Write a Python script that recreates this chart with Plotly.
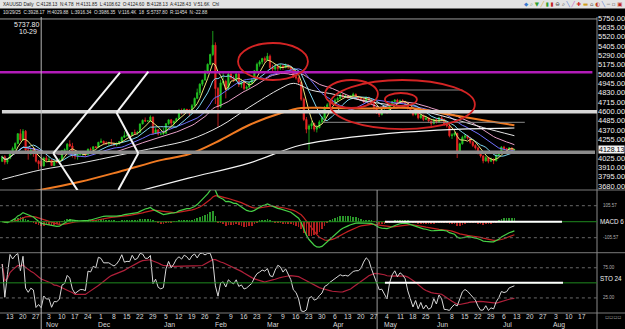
import plotly.graph_objects as go
from plotly.subplots import make_subplots
import pandas as pd

# ---------------- data ----------------
first_idx = 2  # trading-day index (Mon 6 Oct = 0) of the first candle

opens = [3985, 4040, 3975,
         4018, 4110, 4142, 4205, 4325,
         4250, 4356, 4125, 4095, 4125,
         4112, 3985, 3986.35, 3928, 4025,
         4000, 4002, 3932, 3980, 3977,
         4000, 4115, 4128, 4195, 4172,
         4082, 4046, 4066, 4078, 4078,
         4065, 4135, 4130, 4164, 4155,
         4218, 4232, 4207, 4206, 4208,
         4198, 4190, 4208, 4228, 4280,
         4300, 4305, 4303, 4340, 4332,
         4340, 4445, 4490, 4480, 4482,
         4530, 4332, 4372, 4320, 4322,
         4330, 4448, 4495, 4455, 4478,
         4510, 4600, 4590, 4625, 4615,
         4595, 4670, 4760, 4830, 4935,
         4985, 5080, 5180, 5300, 5415,
         4880, 4660, 4950, 4970, 4870,
         5060, 5010, 4980, 5060, 4930,
         4960, 4880, 4900, 4950, 4990,
         5100, 5180, 5210, 5250, 5230,
         5280, 5140, 5120, 5150, 5130,
         5160, 5140, 5170, 5150, 5110,
         5030, 5010, 4960, 4750, 4500,
         4380, 4420, 4450, 4380, 4400,
         4470, 4520, 4650, 4680, 4720,
         4700, 4740, 4760, 4800, 4780,
         4790, 4770, 4790, 4810, 4780,
         4760, 4750, 4720, 4770, 4740,
         4700, 4640, 4580, 4560, 4600,
         4610, 4600, 4680, 4720, 4740,
         4710, 4730, 4720, 4700, 4640,
         4600, 4560, 4590, 4520, 4550,
         4500, 4520, 4480, 4450, 4500,
         4470, 4520, 4500, 4440, 4420,
         4300, 4310, 4330, 4110, 4200,
         4280, 4300, 4270, 4220, 4180,
         4150, 4090, 4050, 3990, 4030,
         3985, 4010, 3990, 4060, 4100,
         4160, 4140, 4130, 4150, 4124.60]

highs = [4055, 4060, 4025,
         4115, 4165, 4218, 4330, 4380,
         4382, 4370, 4160, 4150, 4160,
         4115, 4000, 4029.88, 4040, 4055,
         4040, 4010, 3995, 4010, 4020,
         4125, 4145, 4210, 4245, 4212,
         4095, 4085, 4110, 4100, 4095,
         4140, 4155, 4170, 4168, 4225,
         4265, 4240, 4232, 4225, 4260,
         4215, 4215, 4235, 4290, 4355,
         4350, 4320, 4345, 4375, 4360,
         4450, 4500, 4525, 4490, 4550,
         4535, 4395, 4380, 4330, 4400,
         4455, 4500, 4505, 4485, 4520,
         4630, 4635, 4640, 4630, 4625,
         4690, 4770, 4880, 4945, 4990,
         5110, 5190, 5310, 5590, 5450,
         4900, 4990, 5090, 4990, 5075,
         5080, 5040, 5085, 5070, 5000,
         4975, 4920, 4970, 5010, 5110,
         5200, 5230, 5260, 5275, 5320,
         5300, 5175, 5180, 5170, 5185,
         5175, 5190, 5180, 5160, 5120,
         5060, 5030, 4970, 4770, 4530,
         4440, 4480, 4460, 4430, 4490,
         4540, 4665, 4700, 4735, 4740,
         4760, 4780, 4830, 4815, 4810,
         4800, 4800, 4830, 4820, 4790,
         4780, 4760, 4785, 4780, 4750,
         4710, 4660, 4600, 4620, 4630,
         4620, 4690, 4730, 4750, 4755,
         4745, 4750, 4730, 4705, 4650,
         4610, 4610, 4600, 4570, 4560,
         4530, 4525, 4490, 4510, 4510,
         4530, 4540, 4510, 4460, 4430,
         4330, 4345, 4335, 4215, 4300,
         4320, 4310, 4280, 4235, 4195,
         4160, 4110, 4060, 4050, 4040,
         4030, 4020, 4070, 4110, 4170,
         4175, 4150, 4160, 4155, 4131.85]

lows = [3975, 3945, 3950,
        4010, 4090, 4110, 4195, 4230,
        4235, 4080, 4005, 4060, 4040,
        3970, 3885, 3916.34, 3920, 3975,
        3975, 3930, 3925, 3960, 3970,
        3995, 4100, 4115, 4160, 4030,
        4010, 4005, 4055, 4040, 4040,
        4060, 4110, 4125, 4145, 4150,
        4210, 4190, 4185, 4175, 4195,
        4170, 4170, 4185, 4210, 4275,
        4285, 4270, 4295, 4310, 4315,
        4338, 4440, 4470, 4475, 4475,
        4310, 4320, 4300, 4312, 4310,
        4325, 4430, 4420, 4410, 4465,
        4505, 4560, 4585, 4580, 4540,
        4590, 4665, 4750, 4800, 4910,
        4980, 5060, 5170, 5280, 4690,
        4410, 4640, 4920, 4760, 4860,
        4990, 4960, 4970, 4900, 4890,
        4860, 4850, 4880, 4930, 4980,
        5090, 5150, 5180, 5200, 5220,
        5120, 5090, 5100, 5090, 5110,
        5110, 5130, 5120, 5090, 5010,
        4990, 4940, 4730, 4480, 4330,
        4124, 4380, 4350, 4340, 4390,
        4450, 4510, 4630, 4660, 4680,
        4690, 4720, 4750, 4760, 4765,
        4750, 4760, 4780, 4770, 4740,
        4730, 4700, 4710, 4725, 4690,
        4620, 4570, 4530, 4550, 4580,
        4570, 4595, 4670, 4705, 4700,
        4700, 4700, 4680, 4620, 4580,
        4540, 4550, 4500, 4510, 4480,
        4490, 4460, 4420, 4440, 4450,
        4460, 4480, 4420, 4400, 4280,
        4260, 4290, 4025, 4090, 4190,
        4260, 4250, 4200, 4160, 4130,
        4070, 4030, 3960, 3980, 3960,
        3975, 3950, 3985, 4050, 4090,
        4120, 4110, 4120, 4105, 4108.62]

closes = [4040, 3975, 4018,
          4110, 4142, 4205, 4325, 4250,
          4356, 4125, 4095, 4125, 4112,
          3985, 3955, 3928.17, 4025, 4000,
          4002, 3932, 3980, 3977, 4000,
          4115, 4128, 4195, 4172, 4082,
          4046, 4066, 4078, 4078, 4065,
          4135, 4130, 4164, 4155, 4218,
          4232, 4207, 4206, 4208, 4198,
          4190, 4208, 4228, 4280, 4300,
          4305, 4303, 4340, 4332, 4340,
          4445, 4490, 4480, 4482, 4530,
          4332, 4372, 4320, 4322, 4330,
          4448, 4495, 4455, 4478, 4510,
          4600, 4590, 4625, 4615, 4595,
          4670, 4760, 4830, 4935, 4985,
          5080, 5180, 5300, 5415, 4880,
          4660, 4950, 4970, 4870, 5060,
          5010, 4980, 5060, 4930, 4960,
          4880, 4900, 4950, 4990, 5100,
          5180, 5210, 5250, 5230, 5280,
          5140, 5120, 5150, 5130, 5160,
          5140, 5170, 5150, 5110, 5030,
          5010, 4960, 4750, 4500, 4380,
          4420, 4450, 4380, 4400, 4470,
          4520, 4650, 4680, 4720, 4700,
          4740, 4760, 4800, 4780, 4790,
          4770, 4790, 4810, 4780, 4760,
          4750, 4720, 4770, 4740, 4700,
          4640, 4580, 4560, 4600, 4610,
          4600, 4680, 4720, 4740, 4710,
          4730, 4720, 4700, 4640, 4600,
          4560, 4590, 4520, 4550, 4500,
          4520, 4480, 4450, 4500, 4470,
          4520, 4500, 4440, 4420, 4300,
          4310, 4330, 4110, 4200, 4280,
          4300, 4270, 4220, 4180, 4150,
          4090, 4050, 3990, 4030, 3985,
          4010, 3990, 4060, 4100, 4160,
          4140, 4130, 4150, 4120, 4128.13]

# long moving averages (trading-day index, value)
ma60_idx = [2, 17, 32, 47, 62, 74, 86, 97, 109, 114, 121, 128, 143, 159, 174, 187, 199]
ma60_val = [3760, 3880, 3960, 4060, 4160, 4250, 4420, 4650, 4880, 4945, 4860, 4820, 4720, 4640, 4520, 4400, 4300]
ma100_idx = [2, 17, 32, 47, 63, 74, 86, 97, 109, 117, 128, 143, 159, 174, 187, 199]
ma100_val = [3560, 3635, 3733, 3857, 3999, 4074, 4247, 4432, 4576, 4640, 4640, 4635, 4640, 4560, 4490, 4430]
ma200_idx = [47, 56, 74, 97, 117, 143, 174, 199]
ma200_val = [3560, 3630, 3780, 3963, 4185, 4305, 4376, 4395]

# horizontal levels drawn on the chart
level_magenta = 5081
level_light = 4596
level_dark = 4095
thin_levels = [(125.4, 203, 4465), (147, 179, 4863)]
crosshair_idx = 17
crosshair_price = 5737.80
last_price = 4128.13

# hand-drawn white lines (idx, price)
trend_lines = [(21.65, 4083, 47.3, 5076), (21.65, 4083, 32.6, 3548),
               (46.0, 4583, 58.2, 5088), (46.0, 4583, 54.35, 4083),
               (54.35, 4083, 46.65, 3631)]
# red ellipses (idx0, price0, idx1, price1)
ellipses = [(92.7, 4986, 119.6, 5442), (128.1, 4382, 183.8, 4986),
            (126.2, 4641, 146.5, 4986), (149.2, 4666, 161.5, 4826)]

price_ticks = [5750, 5635, 5520, 5405, 5290, 5175, 5060, 4945, 4830, 4715,
               4600, 4485, 4370, 4255, 4025, 3910, 3795, 3680]
tick_days = ["13", "20", "27", "3", "10", "17", "24", "1", "8", "15", "22", "29",
             "5", "12", "19", "26", "2", "9", "16", "23", "2", "9", "16", "23", "30",
             "6", "13", "20", "27", "4", "11", "18", "25", "1", "8", "15", "22", "29",
             "6", "13", "20", "27", "3", "10", "17"]
month_names = ["Nov", "Dec", "Jan", "Feb", "Mar", "Apr", "May", "Jun", "Jul", "Aug"]
month_idx = [20, 40, 65, 85, 105, 130, 150, 170, 195, 215]

macd_levels = [105.57, -105.57]
sto_levels = [75, 25]

# ---------------- derived ----------------
x = list(range(first_idx, first_idx + len(closes)))
c = pd.Series(closes, dtype=float)
h = pd.Series(highs, dtype=float)
l = pd.Series(lows, dtype=float)

ma5 = c.rolling(5, min_periods=1).mean()
ma10 = c.rolling(10, min_periods=1).mean()
ma20 = c.rolling(20, min_periods=1).mean()
ma30 = c.rolling(30, min_periods=1).mean()

ema12 = c.ewm(span=12, adjust=False).mean()
ema26 = c.ewm(span=26, adjust=False).mean()
dif = ema12 - ema26
dea = dif.ewm(span=9, adjust=False).mean()
hist = dif - dea

llv = l.rolling(24, min_periods=1).min()
hhv = h.rolling(24, min_periods=1).max()
stk = 100 * (c - llv) / (hhv - llv)
std = stk.rolling(20, min_periods=1).mean()

# ---------------- figure ----------------
fig = make_subplots(rows=3, cols=1, shared_xaxes=True, vertical_spacing=0)

fig.add_trace(go.Candlestick(
    x=x, open=opens, high=highs, low=lows, close=closes,
    increasing=dict(line=dict(color="#22c422", width=0.8), fillcolor="#22c422"),
    decreasing=dict(line=dict(color="#e82424", width=0.8), fillcolor="#e82424"),
    whiskerwidth=0, hoverinfo="skip"), row=1, col=1)

ma_specs = [(ma30, "#e8a0c8"), (ma20, "#7272ff"), (ma10, "#7fd8f2"), (ma5, "#ece27a")]
for s, col in ma_specs:
    fig.add_trace(go.Scatter(x=x, y=s, mode="lines", line=dict(color=col, width=1)), row=1, col=1)
fig.add_trace(go.Scatter(x=ma60_idx, y=ma60_val, mode="lines", line=dict(color="#e6e6e6", width=1, shape="spline")), row=1, col=1)
fig.add_trace(go.Scatter(x=ma100_idx, y=ma100_val, mode="lines", line=dict(color="#f07a22", width=2, shape="spline")), row=1, col=1)
fig.add_trace(go.Scatter(x=ma200_idx, y=ma200_val, mode="lines", line=dict(color="#f4f4f4", width=1.2, shape="spline")), row=1, col=1)

# MACD
fig.add_trace(go.Bar(x=x, y=hist, width=0.22,
                     marker=dict(color=["#2a962a" if v >= 0 else "#b01e1e" for v in hist], line=dict(width=0))),
              row=2, col=1)
fig.add_trace(go.Scatter(x=x, y=dea, mode="lines", line=dict(color="#c42222", width=1.2)), row=2, col=1)
fig.add_trace(go.Scatter(x=x, y=dif, mode="lines", line=dict(color="#46d046", width=1.2)), row=2, col=1)

# Stochastic
fig.add_trace(go.Scatter(x=x, y=std, mode="lines", line=dict(color="#b0203a", width=1.2)), row=3, col=1)
fig.add_trace(go.Scatter(x=x, y=stk, mode="lines", line=dict(color="#d8d8d8", width=1)), row=3, col=1)

shapes = []
# panel separators
for yp in [0.4155, 0.2037, 0.0]:
    shapes.append(dict(type="line", xref="paper", yref="paper", x0=0, x1=1.05, y0=yp, y1=yp,
                       line=dict(color="#7a7a7a", width=1)))
shapes.append(dict(type="line", xref="paper", yref="paper", x0=1.0, x1=1.0, y0=-0.06, y1=1.0,
                   line=dict(color="#8a8a8a", width=1)))
# levels
shapes.append(dict(type="line", xref="x", yref="y", x0=1.1, x1=229, y0=level_magenta, y1=level_magenta,
                   line=dict(color="#b21cb8", width=2.5)))
shapes.append(dict(type="line", xref="x", yref="y", x0=1.9, x1=231, y0=level_light, y1=level_light,
                   line=dict(color="#d6d6d6", width=3.5)))
shapes.append(dict(type="line", xref="x", yref="y", x0=1.1, x1=230, y0=level_dark, y1=level_dark,
                   line=dict(color="#8c8c8c", width=3.5)))
for x0, x1, yv in thin_levels:
    shapes.append(dict(type="line", xref="x", yref="y", x0=x0, x1=x1, y0=yv, y1=yv,
                       line=dict(color="#8a8a8a", width=1)))
# crosshair
shapes.append(dict(type="line", xref="x", yref="y", x0=1.1, x1=230.8, y0=crosshair_price, y1=crosshair_price,
                   line=dict(color="#9a9a9a", width=1)))
shapes.append(dict(type="line", xref="x", yref="paper", x0=crosshair_idx, x1=crosshair_idx, y0=-0.06, y1=1.0,
                   line=dict(color="#b4b4b4", width=1)))
shapes.append(dict(type="line", xref="x", yref="paper", x0=146.2, x1=146.2, y0=-0.06, y1=0.4155,
                   line=dict(color="#9a9a9a", width=1)))
# trend lines
for a, b, cc, d in trend_lines:
    shapes.append(dict(type="line", xref="x", yref="y", x0=a, y0=b, x1=cc, y1=d,
                       line=dict(color="#f4f4f4", width=2)))
# ellipses
for a, b, cc, d in ellipses:
    shapes.append(dict(type="circle", xref="x", yref="y", x0=a, y0=b, x1=cc, y1=d,
                       line=dict(color="#d42424", width=1.8)))
# MACD panel lines
for lv in macd_levels:
    shapes.append(dict(type="line", xref="x", yref="y2", x0=1.1, x1=230.8, y0=lv, y1=lv,
                       line=dict(color="#6a6a6a", width=1, dash="dot")))
shapes.append(dict(type="line", xref="x", yref="y2", x0=1.1, x1=230.8, y0=0, y1=0,
                   line=dict(color="#1f8a1f", width=1)))
shapes.append(dict(type="line", xref="x", yref="y2", x0=149.2, x1=217.3, y0=0, y1=0,
                   line=dict(color="#ffffff", width=2)))
# stochastic lines
for lv in sto_levels:
    shapes.append(dict(type="line", xref="x", yref="y3", x0=1.1, x1=230.8, y0=lv, y1=lv,
                       line=dict(color="#6a6a6a", width=1, dash="dot")))
shapes.append(dict(type="line", xref="x", yref="y3", x0=1.1, x1=230.8, y0=50, y1=50,
                   line=dict(color="#1f8a1f", width=1)))
shapes.append(dict(type="line", xref="x", yref="y3", x0=149.2, x1=217.7, y0=50, y1=50,
                   line=dict(color="#ffffff", width=2)))
# header band
shapes.append(dict(type="rect", xref="paper", yref="paper", x0=0, x1=1.05, y0=1.0287, y1=1.06,
                   fillcolor="#e4e4e4", line=dict(width=0), layer="below"))

fig.update_layout(shapes=shapes)

F = "Arial, Liberation Sans, sans-serif"
ann = []
ann.append(dict(xref="paper", yref="paper", x=0.002, y=1.0435, xanchor="left", yanchor="middle",
                text="XAUUSD Daily  C:4128.13  N:4.78  H:4131.85  L:4108.62  O:4124.60  B:4128.13  A:4128.43  V:51.6K  Chl",
                showarrow=False, font=dict(family=F, size=4.6, color="#202020")))
ann.append(dict(xref="paper", yref="paper", x=0.002, y=1.0165, xanchor="left", yanchor="middle",
                text="10/29/25  C:3928.17  H:4029.88  L:3916.34  O:3986.35  V:116.4K  18  S:5737.80  R:11454  N:-22.88",
                showarrow=False, font=dict(family=F, size=4.6, color="#e0e0e0")))
ann.append(dict(xref="paper", yref="paper", x=1.047, y=1.0435, xanchor="right", yanchor="middle",
                text="<span style='color:#3a7ad0'>◆</span> <span style='color:#6a8a6a'>⌕</span> <span style='color:#30a030'>▼</span> "
                     "<span style='color:#d0a020'>╱</span> <span style='color:#30a030'>▮</span> <span style='color:#c02020'>▮</span> "
                     "<span style='color:#404040'>⊖</span> <span style='color:#404040'>⌕</span> <span style='color:#3a6ad0'>╲</span> "
                     "<span style='color:#c040c0'>╱</span> <span style='color:#d02020'>✚</span> <span style='color:#d0a020'>▬</span> "
                     "<span style='color:#606060'>⌂</span> <span style='color:#c04020'>◐</span> <span style='color:#3a6ad0'>╲</span> "
                     "<span style='color:#606060'>─ ▫</span> <span style='color:#c02020'>▣</span>",
                showarrow=False, font=dict(family="DejaVu Sans", size=5.5, color="#404040")))
ann.append(dict(xref="paper", yref="paper", x=0.068, y=0.973, xanchor="right", yanchor="middle",
                text="5737.80", showarrow=False, font=dict(family=F, size=7, color="#f0f0f0")))
ann.append(dict(xref="paper", yref="paper", x=0.066, y=0.951, xanchor="right", yanchor="middle",
                text="10-29", showarrow=False, font=dict(family=F, size=7, color="#f0f0f0")))
ann.append(dict(xref="paper", yref="y", x=1.002, y=last_price, xanchor="left", yanchor="middle",
                text="4128.13", showarrow=False, bgcolor="#f4f4f4", borderpad=0,
                font=dict(family=F, size=7, color="#000000")))
# lower panel labels
for lv in macd_levels:
    ann.append(dict(xref="paper", yref="y2", x=1.006, y=lv, xanchor="left", yanchor="middle",
                    text=f"{lv:.2f}", showarrow=False, font=dict(family=F, size=4.5, color="#b0b0b0")))
ann.append(dict(xref="paper", yref="y2", x=1.001, y=0, xanchor="left", yanchor="middle",
                text="MACD 6", showarrow=False, font=dict(family=F, size=6.3, color="#f0f0f0")))
for lv in sto_levels:
    ann.append(dict(xref="paper", yref="y3", x=1.006, y=lv, xanchor="left", yanchor="middle",
                    text=f"{lv:.2f}", showarrow=False, font=dict(family=F, size=4.5, color="#b0b0b0")))
ann.append(dict(xref="paper", yref="y3", x=1.001, y=58, xanchor="left", yanchor="middle",
                text="STO 24", showarrow=False, font=dict(family=F, size=6.3, color="#f0f0f0")))
# date axis labels
for k, d in enumerate(tick_days):
    ann.append(dict(xref="x", yref="paper", x=5 * (k + 1), y=-0.0125, xanchor="center", yanchor="middle",
                    text=d, showarrow=False, font=dict(family=F, size=6.8, color="#d8d8d8")))
for name, mi in zip(month_names, month_idx):
    ann.append(dict(xref="x", yref="paper", x=mi + 1.3, y=-0.039, xanchor="center", yanchor="middle",
                    text=name, showarrow=False, font=dict(family=F, size=6.8, color="#d8d8d8")))
ann.append(dict(xref="paper", yref="paper", x=1.01, y=-0.013, xanchor="left", yanchor="middle",
                text="▫▫▫▫", showarrow=False, font=dict(family="DejaVu Sans", size=6, color="#909090")))
fig.update_layout(annotations=ann)

fig.update_layout(
    width=625, height=329, margin=dict(l=0, r=28, t=17, b=16),
    paper_bgcolor="#000000", plot_bgcolor="#000000", showlegend=False,
    bargap=0, font=dict(family=F, color="#e0e0e0"),
)
fig.update_xaxes(range=[1.154, 230.77], showgrid=False, zeroline=False, showline=False,
                 rangeslider_visible=False, ticks="", showticklabels=False)
fig.update_layout(
    yaxis=dict(domain=[0.4155, 1.0], range=[3631, 5762], side="right", showgrid=False, zeroline=False,
               tickvals=price_ticks, ticktext=[f"{v:.2f}" for v in price_ticks], ticks="",
               tickfont=dict(family=F, size=7.5, color="#f0f0f0")),
    yaxis2=dict(domain=[0.2037, 0.4155], range=[-204.5, 209.2], side="right", showgrid=False,
                zeroline=False, showticklabels=False),
    yaxis3=dict(domain=[0.0, 0.2037], range=[0, 100], side="right", showgrid=False,
                zeroline=False, showticklabels=False),
)

fig.write_html("out.html")
